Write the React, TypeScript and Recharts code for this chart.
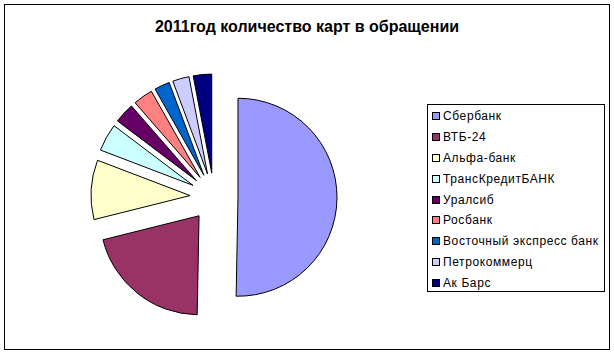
import { Legend, Pie, PieChart, Cell, Sector } from "recharts";

const banks = [
  "Сбербанк",
  "ВТБ-24",
  "Альфа-банк",
  "ТрансКредитБАНК",
  "Уралсиб",
  "Росбанк",
  "Восточный экспресс банк",
  "Петрокоммерц",
  "Ак Барс",
];

// доля карт, %
const shares = [50.3, 20.8, 9.7, 4.5, 3.3, 3.2, 2.5, 2.7, 3.0];

const colors = [
  "#9999FF",
  "#993366",
  "#FFFFCC",
  "#CCFFFF",
  "#660066",
  "#FF8080",
  "#0066CC",
  "#CCCCFF",
  "#000080",
];

const data = banks.map((name, i) => ({ name, value: shares[i] }));

const EXPLODE = 24;
const RAD = Math.PI / 180;

function ExplodedSlice(props: any) {
  const { cx, cy, midAngle, innerRadius, outerRadius, startAngle, endAngle, fill } = props;
  const dx = EXPLODE * Math.cos(-midAngle * RAD);
  const dy = EXPLODE * Math.sin(-midAngle * RAD);
  return (
    <Sector
      cx={cx + dx}
      cy={cy + dy}
      innerRadius={innerRadius}
      outerRadius={outerRadius}
      startAngle={startAngle}
      endAngle={endAngle}
      fill={fill}
      stroke="#000"
      strokeWidth={1}
    />
  );
}

function LegendBox() {
  return (
    <div
      style={{
        border: "1px solid #000",
        background: "#fff",
        padding: "1px 0 0 4px",
        fontFamily: "Arial, 'Liberation Sans', sans-serif",
        fontSize: 12,
        color: "#000",
        height: 188,
        boxSizing: "border-box",
      }}
    >
      {banks.map((b, i) => (
        <div key={b} style={{ height: 20.8, display: "flex", alignItems: "center" }}>
          <span
            style={{
              display: "inline-block",
              width: 6,
              height: 6,
              border: "1px solid #000",
              background: colors[i],
              marginRight: 3,
            }}
          />
          <span style={{ letterSpacing: 0.6 }}>{b}</span>
        </div>
      ))}
    </div>
  );
}

export default function App() {
  return (
    <div style={{ position: "absolute", left: 0, top: 0, width: 614, height: 355, background: "#fff" }}>
      <div
        style={{
          position: "absolute",
          left: 4,
          top: 4,
          width: 604,
          height: 344,
          border: "1px solid #000",
        }}
      />
      <div
        style={{
          position: "absolute",
          left: 0,
          top: 18,
          width: 614,
          textAlign: "center",
          fontFamily: "Arial, 'Liberation Sans', sans-serif",
          fontWeight: "bold",
          fontSize: 16,
          color: "#000",
        }}
      >
        2011год количество карт в обращении
      </div>
      <PieChart width={614} height={355} margin={{ top: 0, right: 0, bottom: 0, left: 0 }} style={{ position: "absolute", left: 0, top: 0 }}>
        <Pie
          data={data}
          dataKey="value"
          nameKey="name"
          cx={214}
          cy={197}
          outerRadius={99}
          startAngle={90}
          endAngle={-270}
          stroke="#000"
          strokeWidth={1}
          shape={ExplodedSlice}
          isAnimationActive={false}
        >
          {data.map((d, i) => (
            <Cell key={d.name} fill={colors[i]} />
          ))}
        </Pie>
        <Legend
          layout="vertical"
          verticalAlign="top"
          align="right"
          wrapperStyle={{ left: 427, top: 104, width: 178 }}
          content={() => <LegendBox />}
        />
      </PieChart>
    </div>
  );
}
